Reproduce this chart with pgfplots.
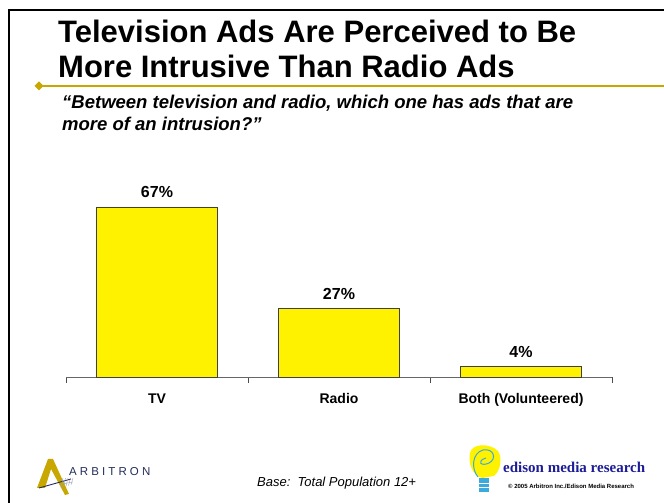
\documentclass[border=0pt]{standalone}
\usepackage{pgfplots}
\pgfplotsset{compat=1.18}
\usepackage{fontspec}
\setmainfont{Liberation Sans}
\newfontfamily\seriffont{Liberation Serif}
\definecolor{gold}{RGB}{200,168,0}
\definecolor{navy}{RGB}{28,28,150}
\definecolor{arbnavy}{RGB}{35,45,90}
\definecolor{bulbblue}{RGB}{60,170,220}
\begin{document}
\begin{tikzpicture}[x=1pt,y=1pt]
\useasboundingbox (0pt,0pt) rectangle (664pt,503pt);
% slide frame
\draw[line width=1.5pt] (9,0) -- (9,493) -- (664,493);
% gold rule with diamond
\draw[gold, line width=2pt] (39,417) -- (664,417);
\fill[gold] (39,421.5) -- (43.5,417) -- (39,412.5) -- (34.5,417) -- cycle;
% title
\node[anchor=base west, inner sep=0, font=\fontsize{31}{35}\selectfont\bfseries] at (58,460) {Television Ads Are Perceived to Be};
\node[anchor=base west, inner sep=0, font=\fontsize{31}{35}\selectfont\bfseries] at (58,425) {More Intrusive Than Radio Ads};
% subtitle
\node[anchor=base west, inner sep=0, font=\fontsize{18.5}{22}\selectfont\bfseries\itshape] at (62,394) {“Between television and radio, which one has ads that are};
\node[anchor=base west, inner sep=0, font=\fontsize{18.5}{22}\selectfont\bfseries\itshape] at (62,372) {more of an intrusion?”};
% chart
\begin{axis}[
  at={(66pt,126pt)}, anchor=south west,
  scale only axis, width=546pt, height=203pt,
  xmin=-0.5, xmax=2.5, ymin=0, ymax=80,
  axis x line*=bottom, axis y line=none,
  axis line style={draw=black!60, line width=0.9pt},
  xtick={0,1,2}, xticklabels={TV,Radio,Both (Volunteered)},
  major tick length=0pt,
  minor xtick={-0.5,0.5,1.5,2.5}, minor tick length=6pt,
  tick align=outside,
  minor tick style={draw=black!70, line width=0.9pt},
  xticklabel style={font=\fontsize{14}{16}\selectfont\bfseries, yshift=-13pt},
  ybar, bar width=121pt,
  clip=false,
  nodes near coords={\pgfmathprintnumber[assume math mode=true]{\pgfplotspointmeta}\%},
  every node near coord/.append style={font=\fontsize{16}{18}\selectfont\bfseries, yshift=5.5pt},
]
\addplot[fill=yellow, draw=black!75, line width=0.8pt] coordinates {(0,67) (1,27) (2,4)};
\end{axis}
% Arbitron logo
\fill[gold] (37,15) -- (48,44) -- (53,44) -- (69,9) -- (65,8) -- (51,34) -- (45,15) -- cycle;
\draw[arbnavy, line width=0.9pt] (39,15) -- (71,24);
\foreach \i in {0,...,4} {\draw[arbnavy!45, line width=0.4pt] (61+2.5*\i,15+0.8*\i) -- (63+2.5*\i,25);}
\draw[arbnavy!45, line width=0.4pt] (62,19) -- (73,21);
\node[anchor=base west, inner sep=0, text=arbnavy, font=\fontsize{11.5}{13}\selectfont] at (69,27)
  {A\kern3.1pt R\kern3.1pt B\kern3.1pt I\kern3.1pt T\kern3.1pt R\kern3.1pt O\kern3.1pt N};
% footer base text
\node[anchor=base west, inner sep=0, font=\fontsize{13}{15}\selectfont\itshape] at (257,16) {Base:\ \ Total Population 12+};
% Edison logo
\fill[yellow] (470,50) .. controls (472,60) and (490,60) .. (498,52) .. controls (503,44) and (500,32) .. (494,27)
  -- (482,25) .. controls (472,28) and (468,40) .. (470,50) -- cycle;
\draw[bulbblue, line width=1pt] (478,26) .. controls (471,34) and (472,50) .. (483,53)
  .. controls (494,55) and (497,44) .. (489,40) .. controls (481,36) and (476,42) .. (486,45);
\fill[bulbblue] (479,25) rectangle (489,11);
\draw[white, line width=0.5pt] (479,20) -- (489,20) (479,15.5) -- (489,15.5);
\node[anchor=base west, inner sep=0, text=navy, font=\seriffont\fontsize{15}{17}\selectfont\bfseries] at (503,30) {edison media research};
\node[anchor=base west, inner sep=0, font=\fontsize{6}{7}\selectfont\bfseries] at (508,14) {© 2005 Arbitron Inc./Edison Media Research};
\end{tikzpicture}
\end{document}
